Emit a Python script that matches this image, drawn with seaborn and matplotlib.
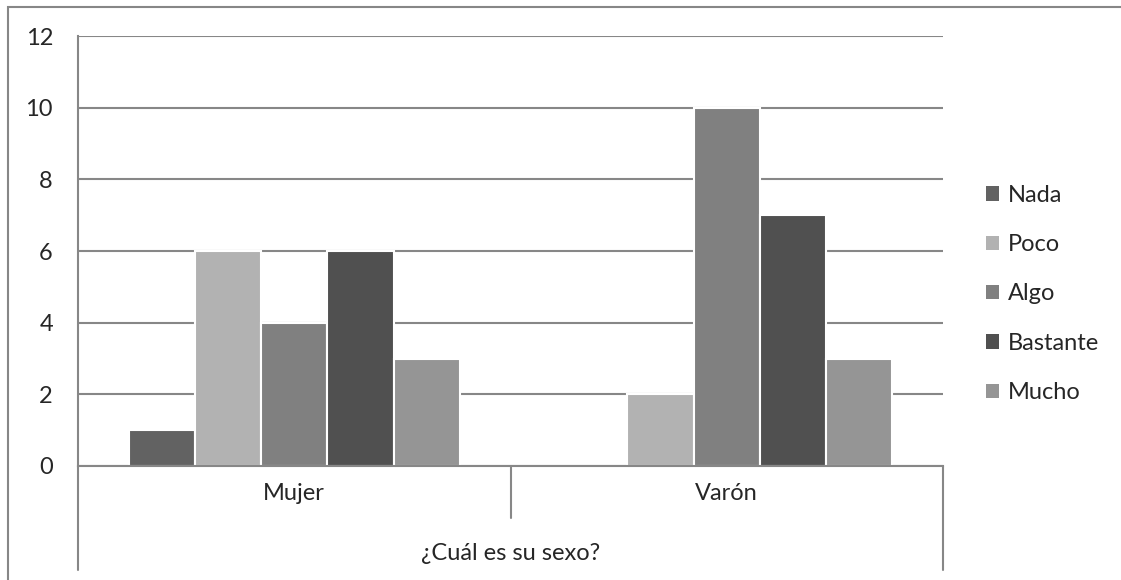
import numpy as np
import pandas as pd
import matplotlib
matplotlib.use("Agg")
import matplotlib.pyplot as plt
from matplotlib.patches import Rectangle
import seaborn as sns

# =====================
# DATOS
# =====================
sexo = ["Mujer", "Varón"]
niveles = ["Nada", "Poco", "Algo", "Bastante", "Mucho"]
mujer = [1, 6, 4, 6, 3]
varon = [0, 2, 10, 7, 3]
colores = ["#626262", "#b2b2b2", "#808080", "#505050", "#959595"]
y_ticks = [0, 2, 4, 6, 8, 10, 12]
titulo_eje = "¿Cuál es su sexo?"

df = pd.DataFrame({
    "sexo": [sexo[0]] * len(niveles) + [sexo[1]] * len(niveles),
    "nivel": niveles * 2,
    "n": mujer + varon,
})

sns.set_style("white")
plt.rcParams["font.family"] = ["Lato", "DejaVu Sans"]

W, H = 1121, 580
GRIS = "#878787"
FS = 17
fig = plt.figure(figsize=(W / 100, H / 100), dpi=100)
ax = fig.add_axes([78 / W, 1 - 466 / H, (943 - 78) / W, (466 - 36) / H])

sns.barplot(data=df, x="sexo", y="n", hue="nivel", order=sexo,
            hue_order=niveles, palette=colores, width=0.765,
            edgecolor="white", linewidth=1.5, saturation=1, ax=ax)

ax.set_xlim(-0.5, 1.5)
ax.set_ylim(0, 12)
ax.set_yticks(y_ticks)
ax.set_xlabel("")
ax.set_ylabel("")
ax.set_axisbelow(True)
ax.yaxis.grid(True, color=GRIS, lw=1.5)
for s in ["top", "right"]:
    ax.spines[s].set_visible(False)
for s in ["left", "bottom"]:
    ax.spines[s].set_color(GRIS)
    ax.spines[s].set_linewidth(1.5)
ax.tick_params(axis="y", length=8, width=1.5, color=GRIS, labelsize=FS, pad=10)
ax.tick_params(axis="x", length=0, labelsize=FS, pad=12)

# lineas de la zona de categorias
trans = ax.transAxes
ax.plot([0, 0], [0, -104 / 430], color=GRIS, lw=1.5, transform=trans, clip_on=False)
ax.plot([1, 1], [0, -104 / 430], color=GRIS, lw=1.5, transform=trans, clip_on=False)
ax.plot([0.5, 0.5], [0, -52 / 430], color=GRIS, lw=1.5, transform=trans, clip_on=False)
ax.text(0.5, -87 / 430, titulo_eje, transform=trans, ha="center", va="center", fontsize=FS)

leg = ax.legend(loc="center left", bbox_to_anchor=(977 / W, 1 - 294 / H),
                bbox_transform=fig.transFigure, frameon=False, fontsize=FS,
                handlelength=0.55, handleheight=0.55, labelspacing=1.2,
                handletextpad=0.35, borderaxespad=0)
for h in leg.get_patches():
    h.set_edgecolor("none")

# borde exterior del grafico
fig.add_artist(Rectangle((8 / W, -0.05), 1.1, 1.05 - 7 / H, transform=fig.transFigure,
                         fill=False, edgecolor=GRIS, lw=1.5))

fig.savefig("out.png", dpi=100)
